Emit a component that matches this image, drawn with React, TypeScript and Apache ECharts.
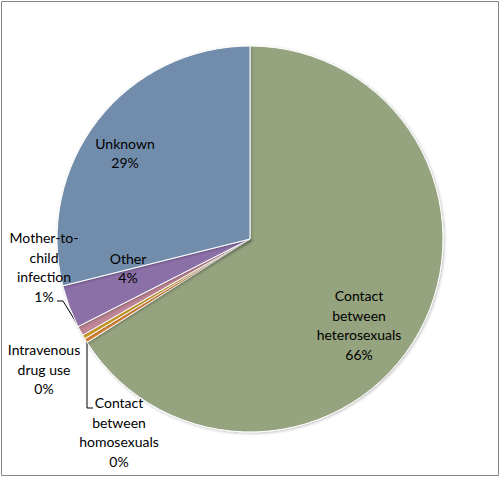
import React, { useEffect, useRef } from "react";
import * as echarts from "echarts";

const categories = [
  "Contact between heterosexuals",
  "Contact between homosexuals",
  "Intravenous drug use",
  "Mother-to-child infection",
  "Other",
  "Unknown",
];
const labelNames = [
  "Contact\nbetween\nheterosexuals",
  "Contact\nbetween\nhomosexuals",
  "Intravenous\ndrug use",
  "Mother-to-\nchild\ninfection",
  "Other",
  "Unknown",
];
const values = [66.0, 0.35, 0.35, 0.8, 3.6, 28.9];
const colors = ["#95A37E", "#E48A3A", "#D9A92B", "#BE8596", "#8B70A8", "#728DAC"];

// label anchors (center x, center y) and optional leader line points
const labelAnchors: [number, number][] = [
  [359, 325],
  [119, 432],
  [44, 369],
  [44, 267],
  [128, 268],
  [125, 153],
];
const leaderLines: ([number, number][] | null)[] = [
  null,
  [[87, 340], [87, 408], [93, 408]],
  null,
  [[79, 327], [63, 301], [57, 301]],
  null,
  null,
];

export default function App() {
  const ref = useRef<HTMLDivElement>(null);
  useEffect(() => {
    if (!ref.current) return;
    const chart = echarts.init(ref.current, undefined, { renderer: "svg" });
    const hasLine = (i: number) => leaderLines[i] !== null;
    chart.setOption({
      animation: false,
      backgroundColor: "#ffffff",
      graphic: [
        {
          type: "rect",
          shape: { x: 1.5, y: 1.5, width: 497, height: 474 },
          style: { fill: "none", stroke: "#868686", lineWidth: 1 },
          silent: true,
        },
      ],
      series: [
        {
          type: "pie",
          center: [250, 239],
          radius: 193,
          startAngle: 90,
          clockwise: true,
          avoidLabelOverlap: false,
          itemStyle: {
            borderColor: "#ffffff",
            borderWidth: 1,
            shadowColor: "rgba(0,0,0,0.25)",
            shadowBlur: 3,
            shadowOffsetX: 1,
            shadowOffsetY: 1,
          },
          label: {
            fontFamily: "Lato",
            fontSize: 14,
            lineHeight: 19.5,
            color: "#000000",
            align: "center",
          },
          labelLine: {
            lineStyle: { color: "#000000", width: 1 },
            smooth: false,
          },
          emphasis: { disabled: true },
          data: categories.map((name, i) => ({
            name,
            value: values[i],
            itemStyle: { color: colors[i] },
            label: {
              position: hasLine(i) ? "outside" : "inside",
              formatter: (p: any) => labelNames[i] + "\n" + Math.round(p.percent) + "%",
            },
            labelLine: { show: hasLine(i), length: 5, length2: 5 },
          })),
          labelLayout: (params: any) => {
            const i = params.dataIndex;
            const a = labelAnchors[i];
            const res: any = {
              x: a[0],
              y: a[1],
              align: "center",
              verticalAlign: "middle",
            };
            const pts = leaderLines[i];
            if (pts) res.labelLinePoints = pts;
            return res;
          },
        },
      ],
    });
    return () => chart.dispose();
  }, []);
  return (
    <div
      ref={ref}
      style={{ position: "fixed", left: 0, top: 0, width: 500, height: 477 }}
    />
  );
}
